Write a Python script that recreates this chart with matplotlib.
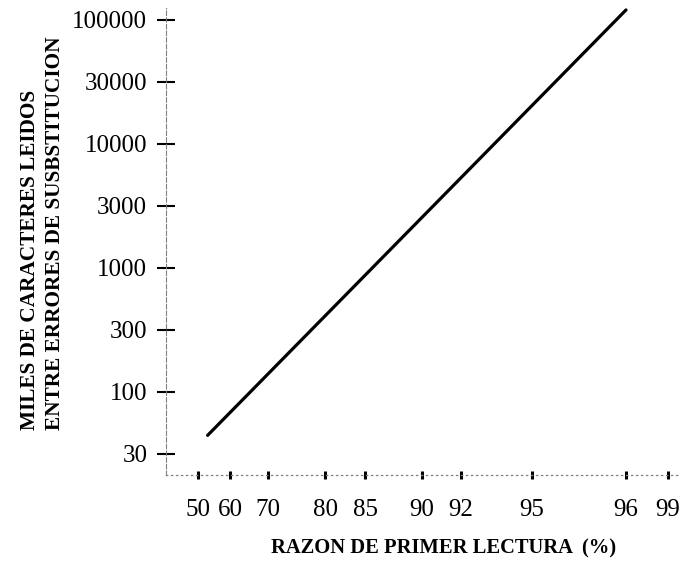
import numpy as np
import matplotlib
matplotlib.use("Agg")
import matplotlib.pyplot as plt

# x axis: percent of first reading (non-uniform printed scale)
pct_ticks = [50, 60, 70, 80, 85, 90, 92, 95, 96, 99]
# y axis: thousands of characters read between substitution errors
chars_ticks = [30, 100, 300, 1000, 3000, 10000, 30000, 100000]

# the straight line (end points)
line_pct = [53, 96]
line_chars = [43, 121000]

# where the printed ticks sit along each axis (scale anchors)
x_anchor = [198, 230, 268, 325, 365, 422, 461, 532, 626, 668]
y_anchor = list(range(len(chars_ticks)))


def piecewise(vals, pos):
    vals = np.asarray(vals, float)
    pos = np.asarray(pos, float)

    def _map(v, a, b):
        v = np.asarray(v, float)
        out = np.interp(v, a, b)
        s0 = (b[1] - b[0]) / (a[1] - a[0])
        s1 = (b[-1] - b[-2]) / (a[-1] - a[-2])
        out = np.where(v < a[0], b[0] + (v - a[0]) * s0, out)
        out = np.where(v > a[-1], b[-1] + (v - a[-1]) * s1, out)
        return out

    return (lambda v: _map(v, vals, pos)), (lambda p: _map(p, pos, vals))


xf, xi = piecewise(pct_ticks, x_anchor)
lf, li = piecewise(np.log10(chars_ticks), y_anchor)
yf = lambda v: lf(np.log10(np.clip(np.asarray(v, float), 1e-9, None)))
yi = lambda p: 10 ** li(p)

fig = plt.figure(figsize=(6.95, 5.7), dpi=100)
W, H = 695, 570
ax = fig.add_axes([166 / W, 95 / H, (680 - 166) / W, (475 - 8) / H])
ax.set_xscale("function", functions=(xf, xi))
ax.set_yscale("function", functions=(yf, yi))

ax.plot(line_pct, line_chars, color="black", lw=2.3, solid_capstyle="round")

ax.set_xlim(xi(166), xi(680))
ax.set_ylim(yi(-0.34), yi(7.19))

ax.set_xticks(pct_ticks)
ax.set_xticklabels([str(v) for v in pct_ticks])
ax.set_yticks(chars_ticks)
ax.set_yticklabels([str(v) for v in chars_ticks])
ax.minorticks_off()

for s in ("top", "right"):
    ax.spines[s].set_visible(False)
ax.spines["left"].set_linestyle((0, (4, 2)))
ax.spines["left"].set_color("0.5")
ax.spines["left"].set_linewidth(0.8)
ax.spines["bottom"].set_linestyle((0, (1, 3)))
ax.spines["bottom"].set_color("0.5")
ax.spines["bottom"].set_linewidth(0.9)

serif = "Liberation Serif"
ax.tick_params(axis="y", direction="inout", length=13, width=1.5, pad=7,
               labelsize=18, labelfontfamily=serif)
ax.tick_params(axis="x", direction="inout", length=6, width=2.2, pad=14,
               labelsize=18, labelfontfamily=serif)

fig.text(444 / W, 1 - 548 / H, "RAZON DE PRIMER LECTURA  (%)", ha="center",
         va="center", fontsize=14.8, fontweight="bold", family=serif)
fig.text(30 / W, 1 - 430 / H, "MILES DE CARACTERES LEIDOS", rotation=90,
         ha="center", va="bottom", fontsize=15.3, fontweight="bold", family=serif)
fig.text(55 / W, 1 - 430 / H, "ENTRE ERRORES DE SUSBSTITUCION", rotation=90,
         ha="center", va="bottom", fontsize=15.3, fontweight="bold", family=serif)

fig.savefig("out.png", dpi=100)
